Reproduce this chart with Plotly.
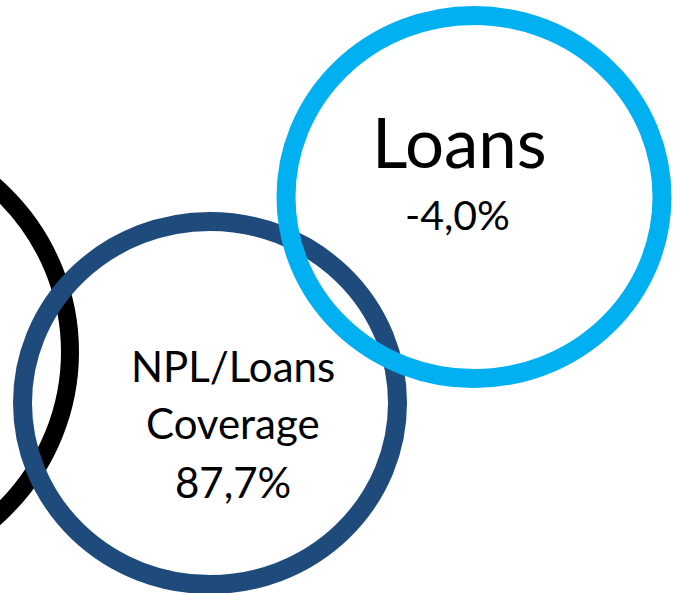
import plotly.graph_objects as go

# KPI rings: name, value (%), ring colour
ring_names = ["", "NPL/Loans Coverage", "Loans"]
ring_values = [None, 87.7, -4.0]
ring_colors = ["#000000", "#1F4A7C", "#00B0F0"]

# ring outlines (ellipse bounds in page pixels) and stroke widths
ring_boxes = [
    (-393.6, 127.2, 70.0, 576.8),
    (22.5, 221.5, 397.5, 584.5),
    (286.0, 15.5, 662.0, 378.5),
]
ring_widths = [18, 19, 19]

FONT = "Lato, 'Open Sans', sans-serif"


def pct(v):
    return f"{v:.1f}%".replace(".", ",")


fig = go.Figure()
fig.add_trace(go.Scatter(x=[0, 673], y=[0, 593], mode="markers",
                         marker=dict(opacity=0), hoverinfo="skip",
                         showlegend=False))

for (x0, y0, x1, y1), col, w in zip(ring_boxes, ring_colors, ring_widths):
    fig.add_shape(type="circle", xref="x", yref="y",
                  x0=x0, y0=y0, x1=x1, y1=y1,
                  line=dict(color=col, width=w), fillcolor="rgba(0,0,0,0)",
                  layer="above")

annotations = []
# Loans ring
annotations.append(dict(x=459, y=141, text=ring_names[2], font=dict(size=69)))
annotations.append(dict(x=457, y=214, text=pct(ring_values[2]), font=dict(size=41)))
# Coverage ring
cov_lines = ring_names[1].split(" ") + [pct(ring_values[1])]
for txt, yy in zip(cov_lines, [366, 423, 482]):
    annotations.append(dict(x=233, y=yy, text=txt, font=dict(size=42)))

for a in annotations:
    a.update(xref="x", yref="y", showarrow=False, xanchor="center",
             yanchor="middle")
    a["font"].update(family=FONT, color="#000000")
fig.update_layout(annotations=annotations)

fig.update_layout(
    width=673, height=593,
    margin=dict(l=0, r=0, t=0, b=0),
    paper_bgcolor="#FFFFFF", plot_bgcolor="#FFFFFF",
    xaxis=dict(range=[0, 673], visible=False, fixedrange=True),
    yaxis=dict(range=[593, 0], visible=False, fixedrange=True),
    showlegend=False,
)

fig.write_html("out.html")
